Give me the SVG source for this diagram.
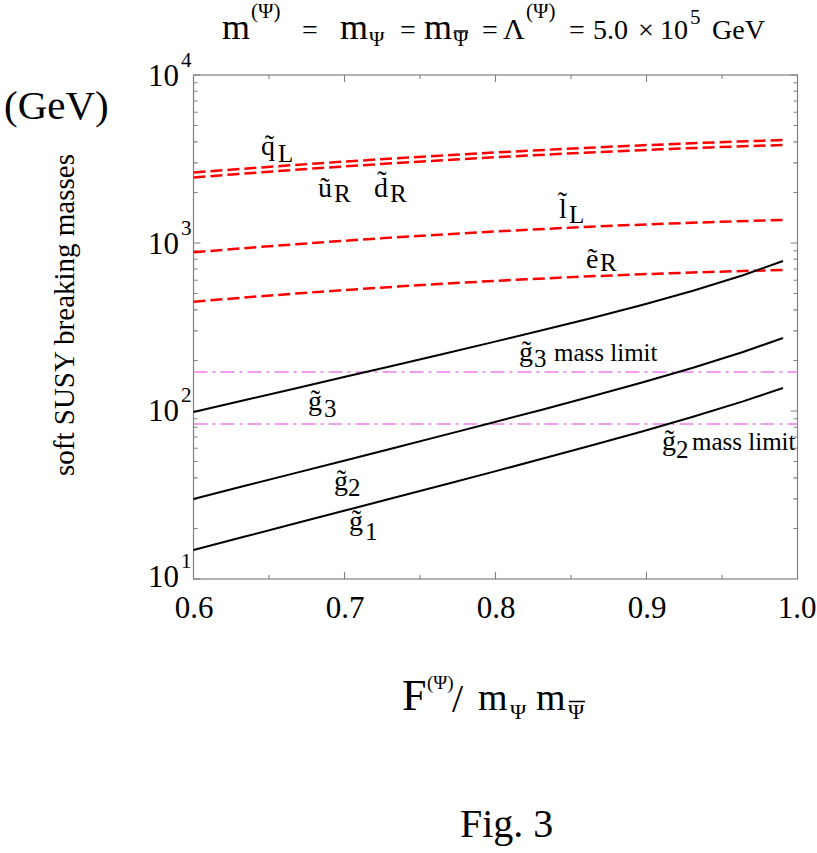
<svg xmlns="http://www.w3.org/2000/svg" width="817" height="853" viewBox="0 0 817 853">
<style>
text{font-family:"Liberation Serif","Times New Roman",serif;fill:#000}
.frame{fill:none;stroke:#808080;stroke-width:1.2}
.tick{fill:none;stroke:#808080;stroke-width:1.1}
.red{fill:none;stroke:#ff0000;stroke-width:2.5;stroke-dasharray:12 5}
.blk{fill:none;stroke:#000;stroke-width:2}
.pink{fill:none;stroke:#f07cf0;stroke-width:1.5;stroke-dasharray:14 5 3 5}
.tl{font-size:31px}
.sup{font-size:21px}
.lb{font-size:28px}
.sb{font-size:25px}
.tt{font-size:28px}
.ts{font-size:21px}
</style>
<rect width="817" height="853" fill="#fff"/>

<g id="title">
<text x="222" y="39" font-size="36">m</text>
<text class="ts" x="251" y="18">(Ψ)</text>
<text class="tt" x="302" y="39">=</text>
<text x="340" y="39" font-size="36">m</text>
<text class="ts" x="369" y="46">Ψ</text>
<text class="tt" x="400" y="39">=</text>
<text x="424" y="39" font-size="36">m</text>
<text class="ts" x="453" y="46">Ψ</text>
<line x1="454" y1="31" x2="468" y2="31" stroke="#000" stroke-width="1.5"/>
<text class="tt" x="482" y="39">=</text>
<text x="503" y="39" font-size="30">Λ</text>
<text class="ts" x="526" y="18">(Ψ)</text>
<text class="tt" x="569" y="39">=</text>
<text class="tt" x="593" y="39">5.0</text>
<text class="tt" x="638" y="39">×</text>
<text class="tt" x="660" y="39">10</text>
<text class="ts" x="690" y="24">5</text>
<text class="tt" x="712" y="39">GeV</text>
</g>

<g id="yaxis-title">
<text x="4" y="119" font-size="41">(GeV)</text>
<text transform="translate(74,315) rotate(-90)" font-size="29" text-anchor="middle">soft SUSY breaking masses</text>
</g>

<g id="frame">
<rect class="frame" x="193.5" y="75" width="604" height="504"/>
<path class="tick" d="M193.5,75h7M193.5,243h7M193.5,411h7M193.5,579h7
M797.5,75h-7M797.5,243h-7M797.5,411h-7
M193.5,528.43h4M193.5,498.84h4M193.5,477.85h4M193.5,461.57h4M193.5,448.27h4M193.5,437.02h4M193.5,427.28h4M193.5,418.69h4
M193.5,360.43h4M193.5,330.84h4M193.5,309.85h4M193.5,293.57h4M193.5,280.27h4M193.5,269.02h4M193.5,259.28h4M193.5,250.69h4
M193.5,192.43h4M193.5,162.84h4M193.5,141.85h4M193.5,125.57h4M193.5,112.27h4M193.5,101.02h4M193.5,91.28h4M193.5,82.69h4
M797.5,528.43h-4M797.5,498.84h-4M797.5,477.85h-4M797.5,461.57h-4M797.5,448.27h-4M797.5,437.02h-4M797.5,427.28h-4M797.5,418.69h-4
M797.5,360.43h-4M797.5,330.84h-4M797.5,309.85h-4M797.5,293.57h-4M797.5,280.27h-4M797.5,269.02h-4M797.5,259.28h-4M797.5,250.69h-4
M797.5,192.43h-4M797.5,162.84h-4M797.5,141.85h-4M797.5,125.57h-4M797.5,112.27h-4M797.5,101.02h-4M797.5,91.28h-4M797.5,82.69h-4
M344.5,579v-7M495.5,579v-7M646.5,579v-7M269,579v-4M420,579v-4M571,579v-4M722,579v-4
M344.5,75v7M495.5,75v7M646.5,75v7M269,75v4M420,75v4M571,75v4M722,75v4"/>
</g>

<g id="tick-labels">
<text class="tl" x="179" y="86" text-anchor="end">10</text><text class="sup" x="181" y="67">4</text>
<text class="tl" x="179" y="254" text-anchor="end">10</text><text class="sup" x="181" y="235">3</text>
<text class="tl" x="179" y="421" text-anchor="end">10</text><text class="sup" x="181" y="402">2</text>
<text class="tl" x="179" y="587" text-anchor="end">10</text><text class="sup" x="181" y="568">1</text>
<text class="tl" x="194" y="618" text-anchor="middle">0.6</text>
<text class="tl" x="345" y="618" text-anchor="middle">0.7</text>
<text class="tl" x="496" y="618" text-anchor="middle">0.8</text>
<text class="tl" x="647" y="618" text-anchor="middle">0.9</text>
<text class="tl" x="797" y="618" text-anchor="middle">1.0</text>
</g>

<g id="curves">
<line class="pink" x1="193.5" y1="372" x2="797.5" y2="372"/>
<line class="pink" x1="193.5" y1="424" x2="797.5" y2="424"/>
<path id="qL" class="red" d="M193.5,172.5 Q488,149.5 783,140"/>
<path id="uRdR" class="red" d="M193.5,177.5 Q488,154 783,145"/>
<path id="lL" class="red" d="M193.5,252.3 Q488,227.6 783,220"/>
<path id="eR" class="red" d="M193.5,301.7 Q488,276.7 783,270"/>
<polyline id="g3" class="blk" points="193.5,412 243,400.46 293,388.91 343,377.32 393,365.69 443,353.98 493,342.14 543,330.09 593,317.68 643,304.69 693,290.75 743,275.22 783,261"/>
<polyline id="g2" class="blk" points="193.5,499 243,486.33 293,473.64 343,460.94 393,448.19 443,435.39 493,422.49 543,409.42 593,396.07 643,382.28 693,367.75 743,352 783,338"/>
<polyline id="g1" class="blk" points="193.5,550 243,537.04 293,524.07 343,511.08 393,498.06 443,484.99 493,471.85 543,458.57 593,445.08 643,431.23 693,416.81 743,401.42 783,388"/>
</g>

<g id="labels">
<text class="lb" x="261" y="155">q̃</text><text class="sb" x="278" y="162">L</text>
<text class="lb" x="318" y="197">ũ</text><text class="sb" x="334" y="202">R</text>
<text class="lb" x="374" y="197">d̃</text><text class="sb" x="390" y="202">R</text>
<text class="lb" x="559" y="218">l̃</text><text class="sb" x="569" y="223">L</text>
<text class="lb" x="586" y="268">ẽ</text><text class="sb" x="600" y="271">R</text>
<text class="lb" x="308" y="410">g̃</text><text class="sb" x="324" y="417">3</text>
<text class="lb" x="519" y="361">g̃</text><text class="sb" x="534" y="367">3</text><text class="sb" x="554" y="361">mass limit</text>
<text class="lb" x="662" y="450">g̃</text><text class="sb" x="676" y="458">2</text><text class="sb" x="692" y="450">mass limit</text>
<text class="lb" x="334" y="490">g̃</text><text class="sb" x="348" y="496">2</text>
<text class="lb" x="349" y="530">g̃</text><text class="sb" x="365" y="540">1</text>
</g>

<g id="xaxis-title">
<text x="402" y="710" font-size="44">F</text>
<text x="427" y="689" font-size="19">(Ψ)</text>
<text x="452" y="712" font-size="40">/</text>
<text x="478" y="710" font-size="38">m</text>
<text x="510" y="719" font-size="22">Ψ</text>
<text x="536" y="710" font-size="38">m</text>
<text x="568" y="719" font-size="22">Ψ</text>
<line x1="569" y1="701.5" x2="585" y2="701.5" stroke="#000" stroke-width="1.5"/>
</g>

<g id="caption">
<text x="460" y="837" font-size="40">Fig. 3</text>
</g>
</svg>
